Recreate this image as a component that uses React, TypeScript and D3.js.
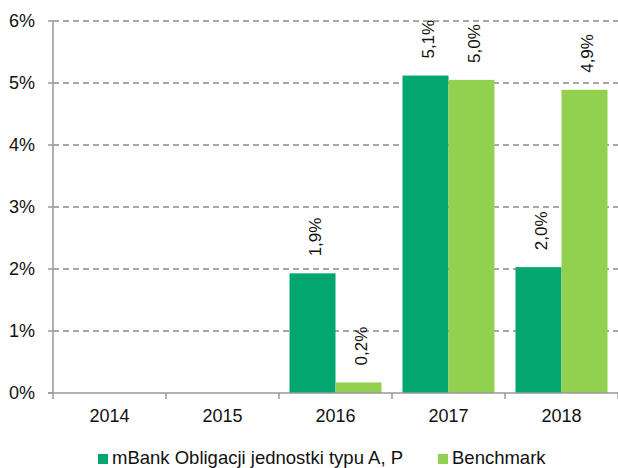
import React, { useEffect, useRef } from 'react';
import * as d3 from 'd3';

const years = ['2014', '2015', '2016', '2017', '2018'];
const fundValues = [null, null, 1.93, 5.12, 2.03];
const benchValues = [null, null, 0.17, 5.05, 4.89];
const fundLabels = ['', '', '1,9%', '5,1%', '2,0%'];
const benchLabels = ['', '', '0,2%', '5,0%', '4,9%'];
const yTicks = [0, 1, 2, 3, 4, 5, 6];
const seriesNames = ['mBank Obligacji jednostki typu A, P', 'Benchmark'];
const colors = ['#03a66e', '#92d150'];

const W = 618;
const H = 468;

export default function App() {
  const svgRef = useRef<SVGSVGElement>(null);

  useEffect(() => {
    if (!svgRef.current) return;
    const svg = d3.select(svgRef.current);
    svg.selectAll('*').remove();

    const left = 53, right = 618, top = 21, bottom = 393;
    const font = '"Liberation Sans", Arial, sans-serif';

    const x = d3.scaleBand<string>().domain(years).range([left, right]).paddingInner(0.186).paddingOuter(0.093);
    const xGroup = d3.scaleBand<string>().domain(years).range([left, right]);
    const y = d3.scaleLinear().domain([0, 6]).range([bottom, top]);

    // gridlines
    svg.append('g')
      .selectAll('line')
      .data(yTicks.filter(t => t > 0))
      .join('line')
      .attr('x1', left).attr('x2', right)
      .attr('y1', d => y(d)).attr('y2', d => y(d))
      .attr('stroke', '#8c8c8c')
      .attr('stroke-width', 1.3)
      .attr('stroke-dasharray', '6,4');

    const bw = x.bandwidth() / 2;
    const series = [fundValues, benchValues];
    const labels = [fundLabels, benchLabels];

    series.forEach((vals, si) => {
      const g = svg.append('g');
      years.forEach((yr, i) => {
        const v = vals[i];
        if (v == null) return;
        const bx = (x(yr) as number) + si * bw;
        g.append('rect')
          .attr('x', bx).attr('y', y(v))
          .attr('width', bw).attr('height', y(0) - y(v))
          .attr('fill', colors[si]);
        g.append('text')
          .attr('transform', `translate(${bx + bw / 2 + 8.5},${y(v) - 17}) rotate(-90)`)
          .attr('font-family', font)
          .attr('font-size', 17)
          .attr('fill', '#111')
          .text(labels[si][i]);
      });
    });

    // axes
    svg.append('line')
      .attr('x1', left).attr('x2', left).attr('y1', top).attr('y2', bottom)
      .attr('stroke', '#999').attr('stroke-width', 1.5);
    svg.append('line')
      .attr('x1', left - 5).attr('x2', right).attr('y1', bottom).attr('y2', bottom)
      .attr('stroke', '#999').attr('stroke-width', 1.5);

    svg.append('g')
      .selectAll('line')
      .data(yTicks)
      .join('line')
      .attr('x1', left - 5).attr('x2', left)
      .attr('y1', d => y(d)).attr('y2', d => y(d))
      .attr('stroke', '#999').attr('stroke-width', 1.5);

    svg.append('g')
      .selectAll('text')
      .data(yTicks)
      .join('text')
      .attr('x', 35).attr('y', d => y(d) + 6)
      .attr('text-anchor', 'end')
      .attr('font-family', font)
      .attr('font-size', 18)
      .attr('fill', '#111')
      .text(d => `${d}%`);

    const bounds = years.map(yr => xGroup(yr) as number).concat([right]);
    svg.append('g')
      .selectAll('line')
      .data(bounds)
      .join('line')
      .attr('x1', d => d).attr('x2', d => d)
      .attr('y1', bottom).attr('y2', bottom + 6)
      .attr('stroke', '#999').attr('stroke-width', 1.5);

    svg.append('g')
      .selectAll('text')
      .data(years)
      .join('text')
      .attr('x', d => (xGroup(d) as number) + xGroup.bandwidth() / 2)
      .attr('y', 422)
      .attr('text-anchor', 'middle')
      .attr('font-family', font)
      .attr('font-size', 18)
      .attr('fill', '#111')
      .text(d => d);

    // legend
    const legendX = [98, 438];
    seriesNames.forEach((name, i) => {
      svg.append('rect')
        .attr('x', legendX[i]).attr('y', 454)
        .attr('width', 10).attr('height', 10)
        .attr('fill', colors[i]);
      svg.append('text')
        .attr('x', legendX[i] + 14).attr('y', 464)
        .attr('font-family', font)
        .attr('font-size', 18.5)
        .attr('fill', '#111')
        .text(name);
    });
  }, []);

  return (
    <svg
      ref={svgRef}
      width={W}
      height={H}
      style={{ position: 'absolute', left: 0, top: 0, background: '#fff' }}
    />
  );
}
